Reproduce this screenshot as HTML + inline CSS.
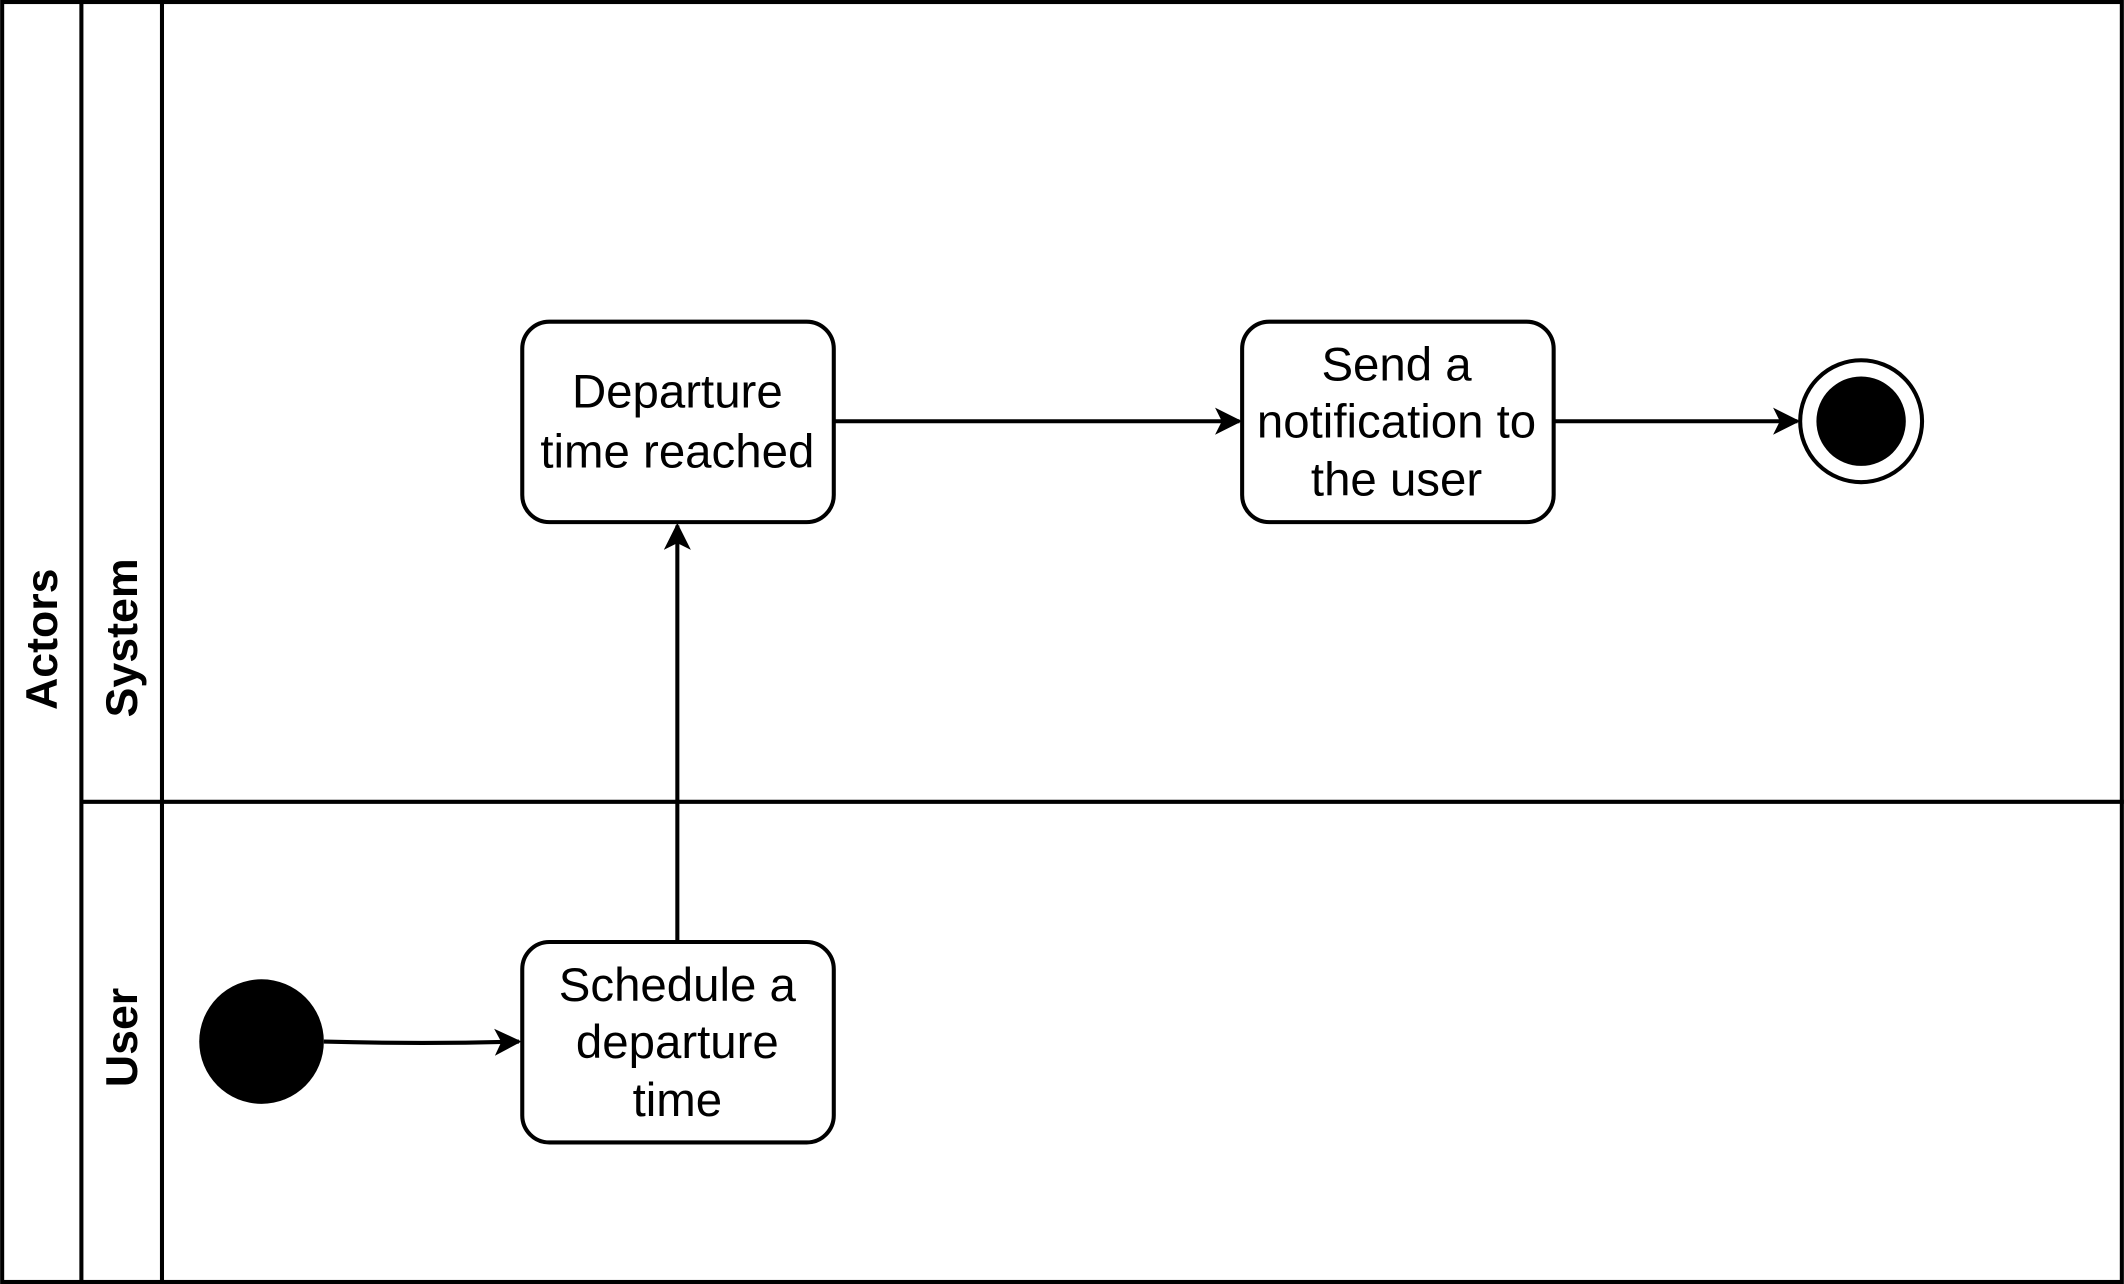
<!DOCTYPE html>
<html><head><meta charset="utf-8"><style>html,body{margin:0;padding:0;background:#fff}svg{display:block}</style></head>
<body>
<svg width="2124" height="1284" viewBox="0 0 1568 948" xmlns="http://www.w3.org/2000/svg" font-family="Liberation Sans, Arial, sans-serif">
<defs><marker id="a" viewBox="0 0 20 20" refX="18" refY="10" markerWidth="20" markerHeight="20" markerUnits="userSpaceOnUse" orient="auto"><path d="M0,0 L20,10 L0,20 L5,10 Z" fill="#000"/></marker></defs>
<rect x="1.5" y="1.5" width="1565" height="945" fill="#fff" stroke="#000" stroke-width="3"/>
<line x1="60" y1="0" x2="60" y2="948" stroke="#000" stroke-width="3"/>
<line x1="119.5" y1="0" x2="119.5" y2="948" stroke="#000" stroke-width="3"/>
<line x1="60" y1="592" x2="1568" y2="592" stroke="#000" stroke-width="3"/>
<text transform="translate(42,472) rotate(-90)" text-anchor="middle" font-size="33" font-weight="bold">Actors</text>
<text transform="translate(101,471) rotate(-90)" text-anchor="middle" font-size="33" font-weight="bold">System</text>
<text transform="translate(101,766) rotate(-90)" text-anchor="middle" font-size="33" font-weight="bold">User</text>
<g fill="#fff" stroke="#000" stroke-width="3">
<rect x="385.5" y="237.5" width="230" height="148" rx="20"/>
<rect x="917" y="237.5" width="230" height="148" rx="20"/>
<rect x="385.5" y="695.5" width="230" height="148" rx="20"/>
<circle cx="1374" cy="311" r="45"/>
</g>
<circle cx="1374" cy="311" r="33" fill="#000"/>
<circle cx="193" cy="769" r="46" fill="#000"/>
<g stroke="#000" stroke-width="3" fill="none">
<path d="M239,769 Q312,771 383,769" marker-end="url(#a)"/>
<line x1="500" y1="694" x2="500" y2="388" marker-end="url(#a)"/>
<line x1="616" y1="311" x2="915" y2="311" marker-end="url(#a)"/>
<line x1="1148" y1="311" x2="1327" y2="311" marker-end="url(#a)"/>
</g>
<g font-size="35" text-anchor="middle">
<text x="500" y="301">Departure</text><text x="500" y="345">time reached</text>
<text x="1031" y="281">Send a</text><text x="1031" y="323">notification to</text><text x="1031" y="366">the user</text>
<text x="500" y="739">Schedule a</text><text x="500" y="781">departure</text><text x="500" y="824">time</text>
</g>
</svg>
</body></html>
